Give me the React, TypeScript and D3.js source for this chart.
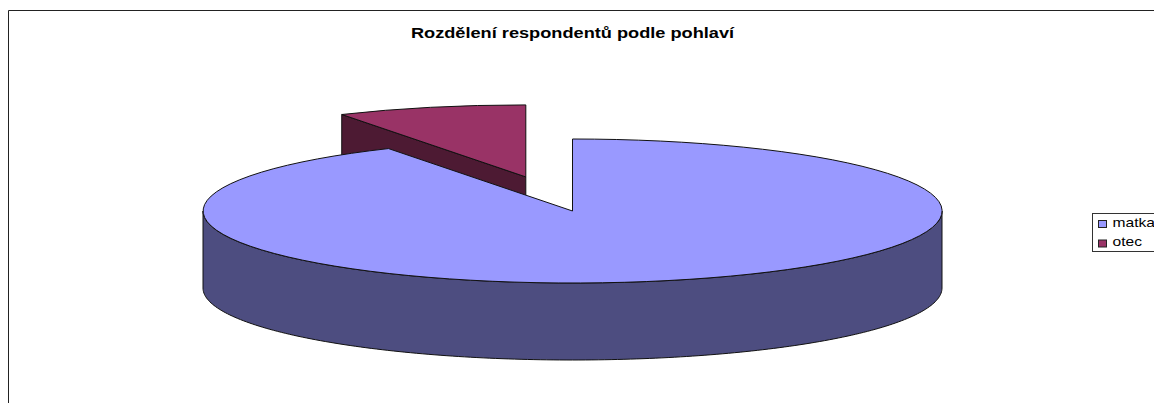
import React, { useRef, useEffect } from "react";
import * as d3 from "d3";

const labels = ["matka", "otec"];
const values = [91.7, 8.3];
const topColors = ["#9999ff", "#993366"];
const sideColors = ["#4d4d80", "#4d1a33"];
const title = "Rozdělení respondentů podle pohlaví";

const width = 1154;
const height = 403;

const App = () => {
  const svgRef = useRef<SVGSVGElement>(null);

  useEffect(() => {
    const svg = d3.select(svgRef.current);
    svg.selectAll("*").remove();

    const cx = 572.5;
    const cy = 211;
    const rx = 369.5;
    const ry = 72;
    const depth = 77;
    const explode = 0.49;
    // the picture's text is stretched sideways
    const textStretch = 1.3;

    // unit circle -> screen, 3D tilt is only a squashed ellipse
    const px = d3.scaleLinear().domain([-1, 1]).range([cx - rx, cx + rx]);
    const py = d3.scaleLinear().domain([-1, 1]).range([cy - ry, cy + ry]);

    const slices = d3.pie<number>().sort(null)(values);
    const arc = d3.arc().innerRadius(0).outerRadius(1);
    const stroke = "#111";

    // chart frame, only top and left are in the picture
    svg
      .append("path")
      .attr("d", `M8.5,${height}V10.5H${width}`)
      .attr("fill", "none")
      .attr("stroke", "#222")
      .attr("stroke-width", 1);

    svg
      .append("text")
      .attr("transform", `translate(572.5,37.5) scale(${textStretch},1)`)
      .attr("text-anchor", "middle")
      .attr("font-family", "Liberation Sans")
      .attr("font-weight", "bold")
      .attr("font-size", 14)
      .text(title);

    const point = (a: number, ox: number, oy: number, dy = 0): [number, number] => [
      px(Math.sin(a) + ox),
      py(-Math.cos(a) + oy) + dy,
    ];

    // exploded slice first, the big one paints over it
    const otec = slices[1];
    const mid = (otec.startAngle + otec.endAngle) / 2;
    const ox = Math.sin(mid) * explode;
    const oy = -Math.cos(mid) * explode;
    const line = d3.line();

    svg
      .append("path")
      .attr(
        "d",
        line([
          point(otec.startAngle, ox, oy),
          [px(ox), py(oy)],
          [px(ox), py(oy) + depth],
          point(otec.startAngle, ox, oy, depth),
        ]) + "Z"
      )
      .attr("fill", sideColors[1])
      .attr("stroke", stroke);

    svg
      .append("path")
      .attr("transform", `translate(${px(ox)},${py(oy)}) scale(${rx},${ry})`)
      .attr("d", arc({ startAngle: otec.startAngle, endAngle: otec.endAngle } as any))
      .attr("fill", topColors[1])
      .attr("stroke", stroke)
      .attr("vector-effect", "non-scaling-stroke");

    // front wall of the big slice
    const wallAngles = d3.range(0, 181).map((i) => Math.PI / 2 + (i / 180) * Math.PI);
    const wall = d3
      .area<number>()
      .x((a) => px(Math.sin(a)))
      .y0((a) => py(-Math.cos(a)))
      .y1((a) => py(-Math.cos(a)) + depth);

    svg
      .append("path")
      .attr("d", wall(wallAngles))
      .attr("fill", sideColors[0])
      .attr("stroke", stroke);

    const matka = slices[0];
    svg
      .append("path")
      .attr("transform", `translate(${cx},${cy}) scale(${rx},${ry})`)
      .attr("d", arc({ startAngle: matka.startAngle, endAngle: matka.endAngle } as any))
      .attr("fill", topColors[0])
      .attr("stroke", stroke)
      .attr("vector-effect", "non-scaling-stroke");

    // legend runs off the right edge
    const legend = svg.append("g").attr("transform", "translate(1092.5,213.5)");
    legend
      .append("rect")
      .attr("width", 80)
      .attr("height", 38)
      .attr("fill", "white")
      .attr("stroke", "#333");

    labels.forEach((d, i) => {
      legend
        .append("rect")
        .attr("x", 6)
        .attr("y", 7 + i * 19.5)
        .attr("width", 8)
        .attr("height", 7)
        .attr("fill", topColors[i])
        .attr("stroke", "#222");
      legend
        .append("text")
        .attr("transform", `translate(20,${13.5 + i * 19}) scale(${textStretch},1)`)
        .attr("font-family", "Liberation Sans")
        .attr("font-size", 12)
        .text(d);
    });
  }, []);

  return (
    <svg
      ref={svgRef}
      width={width}
      height={height}
      style={{ position: "absolute", left: 0, top: 0, background: "white" }}
    ></svg>
  );
};

export default App;
